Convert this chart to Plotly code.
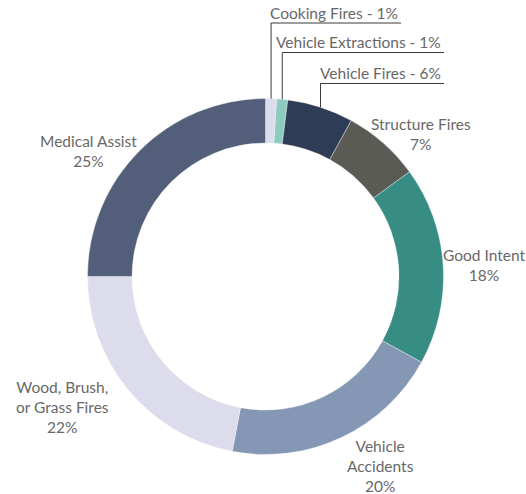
import math
import plotly.graph_objects as go

# Incident categories, clockwise from 12 o'clock
categories = [
    "Cooking Fires", "Vehicle Extractions", "Vehicle Fires", "Structure Fires",
    "Good Intent", "Vehicle Accidents", "Wood, Brush, or Grass Fires", "Medical Assist",
]
percentages = [1, 1, 6, 7, 18, 20, 22, 25]
slice_colors = [
    "#dcdcec", "#8dcbbf", "#2f3c55", "#5a5b55",
    "#378c83", "#8497b5", "#dcdcec", "#525e7a",
]

W, H = 526, 494
CX, CY, R = 265.5, 276.5, 178.0   # donut centre and outer radius, px
HOLE = 0.75

TEXT_COLOR = "#686868"
FONT = "Lato"
FONT_SIZE = 15.5

fig = go.Figure(go.Pie(
    labels=categories,
    values=percentages,
    sort=False,
    direction="clockwise",
    rotation=0,
    hole=HOLE,
    marker=dict(colors=slice_colors, line=dict(color="rgba(255,255,255,0.6)", width=0.6)),
    textinfo="none",
    hoverinfo="label+percent",
    showlegend=False,
    domain=dict(
        x=[(CX - R) / W, (CX + R) / W],
        y=[(H - CY - R) / H, (H - CY + R) / H],
    ),
))


def px(x, y):
    """Convert pixel coordinates (origin top-left) to paper coordinates."""
    return x / W, 1 - y / H


def outer_point(idx):
    """Mid-angle point on the outer rim of slice idx."""
    total = sum(percentages)
    start = sum(percentages[:idx])
    mid = (start + percentages[idx] / 2) / total * 2 * math.pi
    return CX + R * math.sin(mid), CY - R * math.cos(mid)


annotations = []
shapes = []

# Callouts for the small slices: text sitting on an underline with a leader down to the rim
callouts = [
    (0, 23, 401),
    (1, 52.5, 444),
    (2, 83.5, 444),
]
for idx, underline_y, x_end in callouts:
    x0, y0 = outer_point(idx)
    shapes.append(dict(type="line", xref="paper", yref="paper",
                       x0=px(x0, y0)[0], y0=px(x0, y0)[1],
                       x1=px(x0, underline_y)[0], y1=px(x0, underline_y)[1],
                       line=dict(color="#3a3a3a", width=1)))
    shapes.append(dict(type="line", xref="paper", yref="paper",
                       x0=px(x0, underline_y)[0], y0=px(x0, underline_y)[1],
                       x1=px(x_end, underline_y)[0], y1=px(x_end, underline_y)[1],
                       line=dict(color="#3a3a3a", width=1)))
    tx, ty = px(x_end - 1, underline_y + 1)
    annotations.append(dict(
        x=tx, y=ty, xref="paper", yref="paper",
        xanchor="right", yanchor="bottom",
        text=f"{categories[idx]} - {percentages[idx]}%",
        showarrow=False, font=dict(family=FONT, size=FONT_SIZE, color=TEXT_COLOR),
    ))

# Outside labels for the larger slices: (slice index, label lines, centre x, centre y)
outside = [
    (3, ["Structure Fires"], 421, 133.5),
    (4, ["Good Intent"], 484, 264.5),
    (5, ["Vehicle", "Accidents"], 380, 466),
    (6, ["Wood, Brush,", "or Grass Fires"], 62, 407),
    (7, ["Medical Assist"], 88, 151),
]
for idx, lines, x, y in outside:
    tx, ty = px(x, y)
    annotations.append(dict(
        x=tx, y=ty, xref="paper", yref="paper",
        xanchor="center", yanchor="middle", align="center",
        text="<br>".join(lines + [f"{percentages[idx]}%"]),
        showarrow=False, font=dict(family=FONT, size=FONT_SIZE, color=TEXT_COLOR),
    ))

fig.update_layout(
    width=W, height=H,
    margin=dict(l=0, r=0, t=0, b=0),
    paper_bgcolor="white",
    plot_bgcolor="white",
    annotations=annotations,
    shapes=shapes,
)

fig.write_html("out.html")
